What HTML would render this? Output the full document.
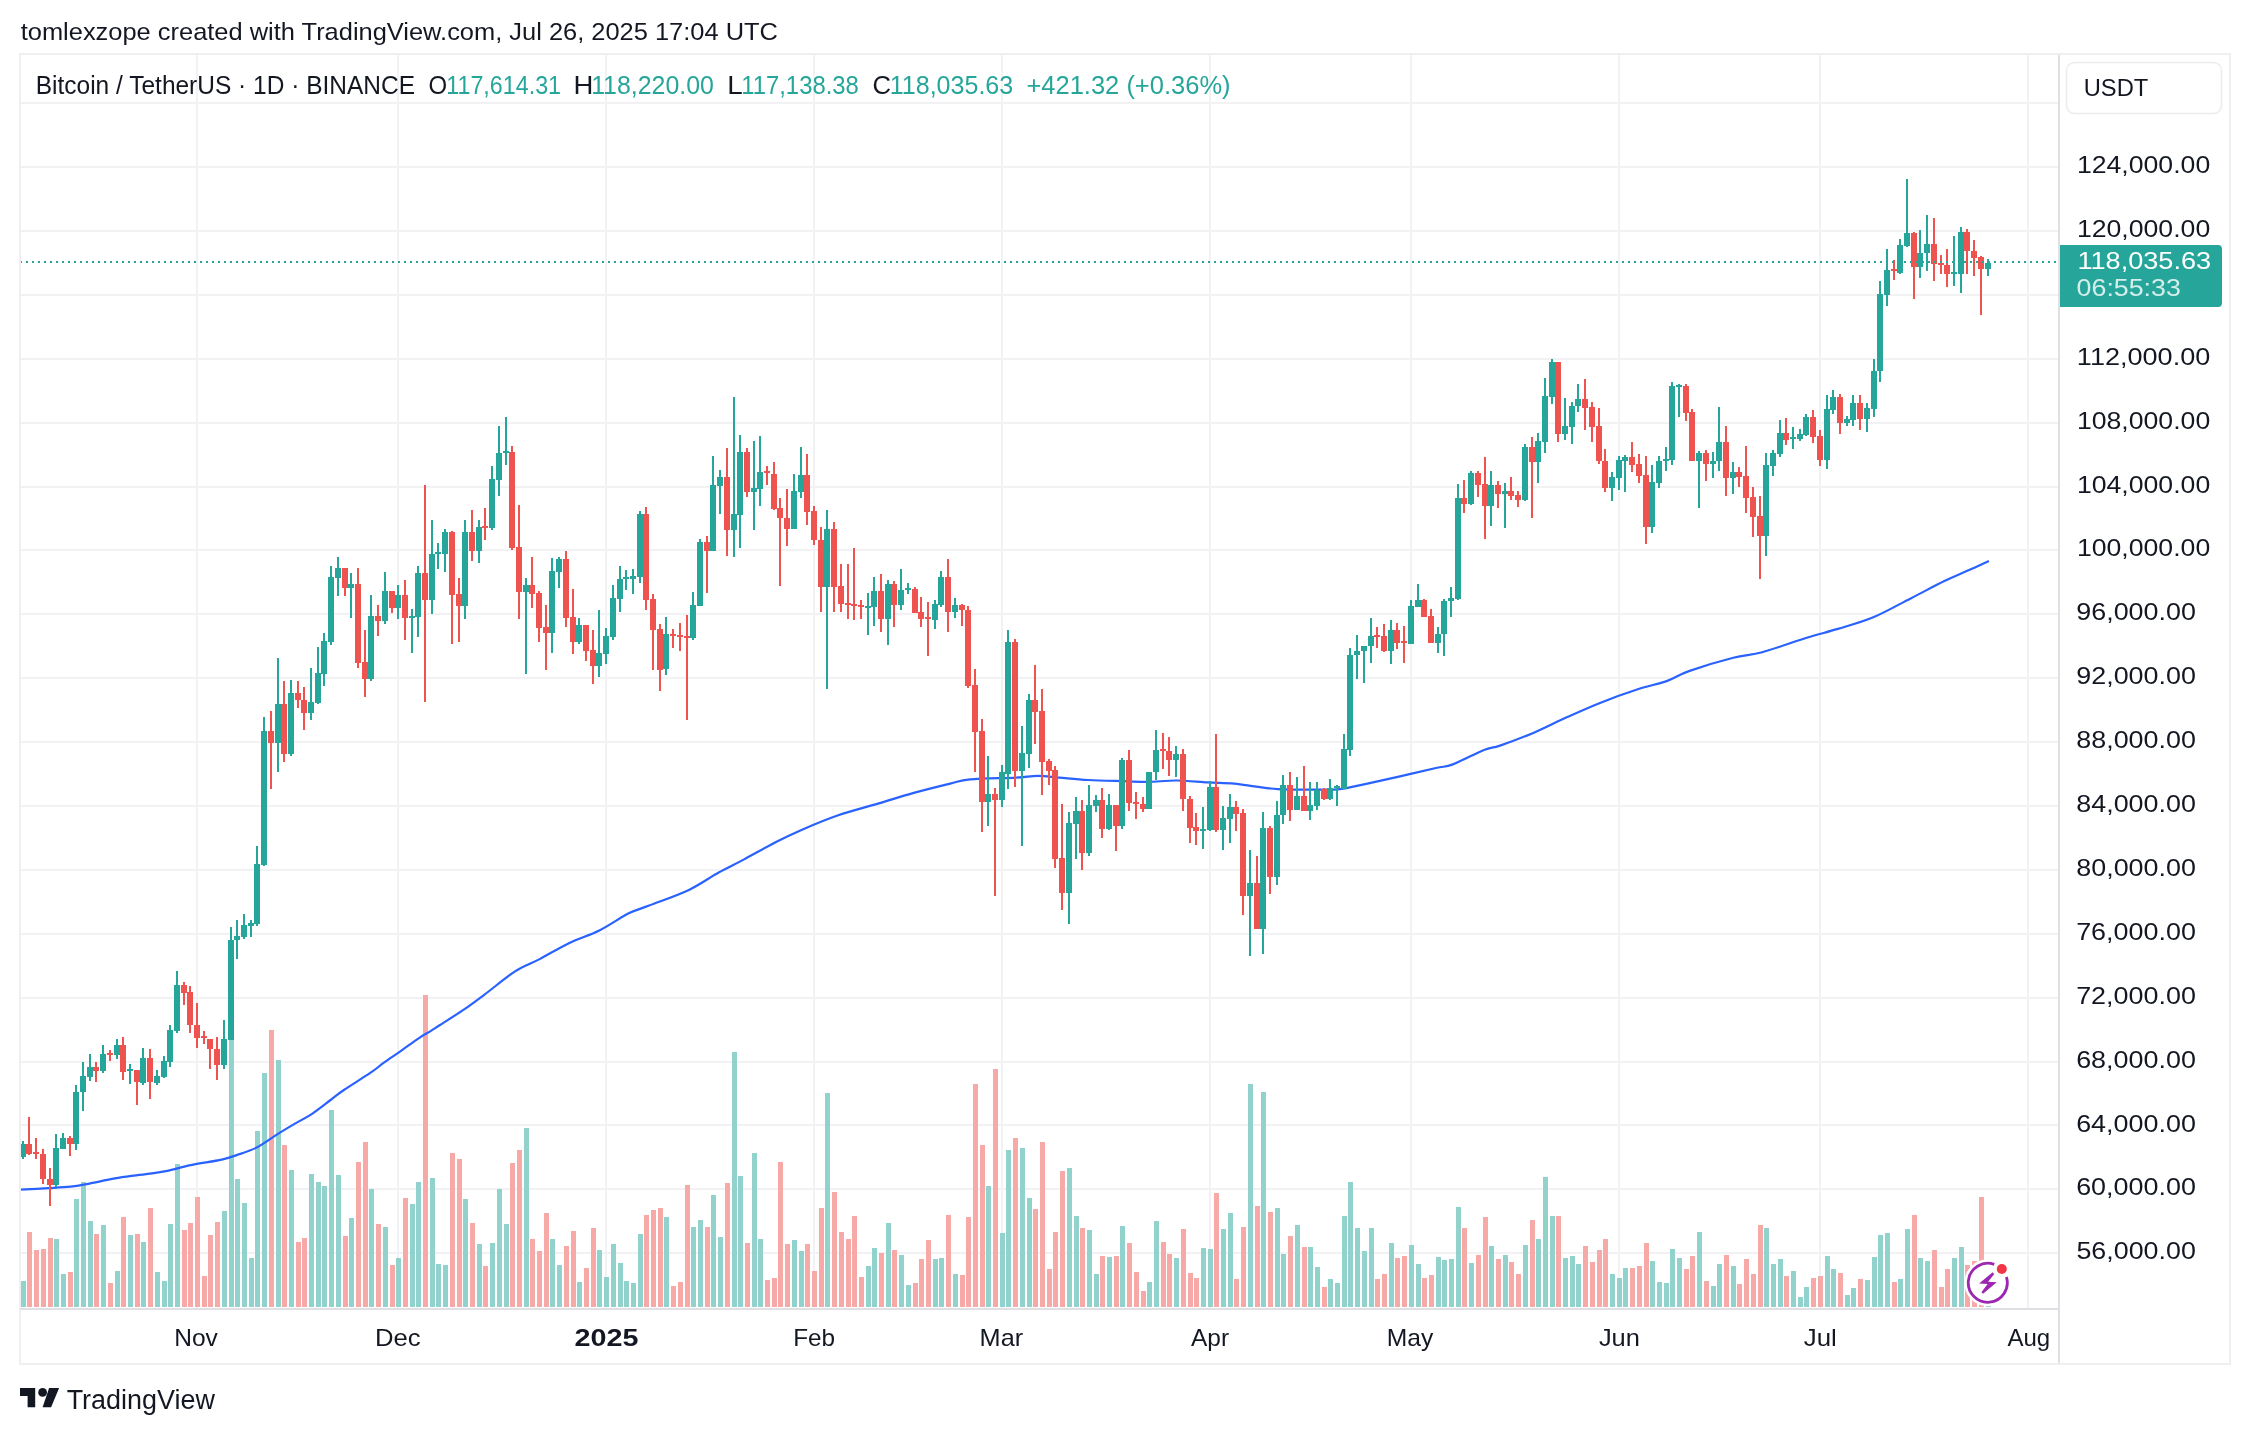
<!DOCTYPE html><html><head><meta charset="utf-8"><style>html,body{margin:0;padding:0;background:#fff;}body{width:2250px;height:1434px;position:relative;overflow:hidden;font-family:"Liberation Sans",sans-serif;}svg{will-change:transform;}</style></head><body><svg width="2250" height="1434" viewBox="0 0 2250 1434" style="position:absolute;left:0;top:0" font-family="Liberation Sans, sans-serif"><g shape-rendering="crispEdges"><rect x="20" y="102" width="2038" height="2" fill="#f2f2f4"/><rect x="20" y="166" width="2038" height="2" fill="#f2f2f4"/><rect x="20" y="230" width="2038" height="2" fill="#f2f2f4"/><rect x="20" y="294" width="2038" height="2" fill="#f2f2f4"/><rect x="20" y="358" width="2038" height="2" fill="#f2f2f4"/><rect x="20" y="422" width="2038" height="2" fill="#f2f2f4"/><rect x="20" y="486" width="2038" height="2" fill="#f2f2f4"/><rect x="20" y="549" width="2038" height="2" fill="#f2f2f4"/><rect x="20" y="613" width="2038" height="2" fill="#f2f2f4"/><rect x="20" y="677" width="2038" height="2" fill="#f2f2f4"/><rect x="20" y="741" width="2038" height="2" fill="#f2f2f4"/><rect x="20" y="805" width="2038" height="2" fill="#f2f2f4"/><rect x="20" y="869" width="2038" height="2" fill="#f2f2f4"/><rect x="20" y="933" width="2038" height="2" fill="#f2f2f4"/><rect x="20" y="997" width="2038" height="2" fill="#f2f2f4"/><rect x="20" y="1061" width="2038" height="2" fill="#f2f2f4"/><rect x="20" y="1124" width="2038" height="2" fill="#f2f2f4"/><rect x="20" y="1188" width="2038" height="2" fill="#f2f2f4"/><rect x="20" y="1252" width="2038" height="2" fill="#f2f2f4"/><rect x="196" y="55" width="2" height="1253" fill="#f2f2f4"/><rect x="397" y="55" width="2" height="1253" fill="#f2f2f4"/><rect x="605" y="55" width="2" height="1253" fill="#f2f2f4"/><rect x="813" y="55" width="2" height="1253" fill="#f2f2f4"/><rect x="1001" y="55" width="2" height="1253" fill="#f2f2f4"/><rect x="1209" y="55" width="2" height="1253" fill="#f2f2f4"/><rect x="1410" y="55" width="2" height="1253" fill="#f2f2f4"/><rect x="1618" y="55" width="2" height="1253" fill="#f2f2f4"/><rect x="1819" y="55" width="2" height="1253" fill="#f2f2f4"/><rect x="2027" y="55" width="2" height="1253" fill="#f2f2f4"/><rect x="21" y="1281" width="5" height="26" fill="#92d2cc"/><rect x="27" y="1232" width="5" height="75" fill="#f7a9a7"/><rect x="34" y="1250" width="5" height="57" fill="#f7a9a7"/><rect x="41" y="1249" width="5" height="58" fill="#f7a9a7"/><rect x="48" y="1238" width="5" height="69" fill="#f7a9a7"/><rect x="54" y="1239" width="5" height="68" fill="#92d2cc"/><rect x="61" y="1274" width="5" height="33" fill="#92d2cc"/><rect x="68" y="1272" width="5" height="35" fill="#f7a9a7"/><rect x="74" y="1199" width="5" height="108" fill="#92d2cc"/><rect x="81" y="1182" width="5" height="125" fill="#92d2cc"/><rect x="88" y="1221" width="5" height="86" fill="#92d2cc"/><rect x="94" y="1234" width="5" height="73" fill="#f7a9a7"/><rect x="101" y="1225" width="5" height="82" fill="#92d2cc"/><rect x="108" y="1283" width="5" height="24" fill="#f7a9a7"/><rect x="115" y="1271" width="5" height="36" fill="#92d2cc"/><rect x="121" y="1217" width="5" height="90" fill="#f7a9a7"/><rect x="128" y="1235" width="5" height="72" fill="#92d2cc"/><rect x="135" y="1234" width="5" height="73" fill="#f7a9a7"/><rect x="141" y="1242" width="5" height="65" fill="#92d2cc"/><rect x="148" y="1208" width="5" height="99" fill="#f7a9a7"/><rect x="155" y="1272" width="5" height="35" fill="#92d2cc"/><rect x="162" y="1281" width="5" height="26" fill="#92d2cc"/><rect x="168" y="1224" width="5" height="83" fill="#92d2cc"/><rect x="175" y="1164" width="5" height="143" fill="#92d2cc"/><rect x="182" y="1230" width="5" height="77" fill="#f7a9a7"/><rect x="188" y="1223" width="5" height="84" fill="#f7a9a7"/><rect x="195" y="1197" width="5" height="110" fill="#f7a9a7"/><rect x="202" y="1276" width="5" height="31" fill="#f7a9a7"/><rect x="208" y="1235" width="5" height="72" fill="#f7a9a7"/><rect x="215" y="1222" width="5" height="85" fill="#f7a9a7"/><rect x="222" y="1211" width="5" height="96" fill="#92d2cc"/><rect x="229" y="1040" width="5" height="267" fill="#92d2cc"/><rect x="235" y="1179" width="5" height="128" fill="#92d2cc"/><rect x="242" y="1203" width="5" height="104" fill="#92d2cc"/><rect x="249" y="1258" width="5" height="49" fill="#92d2cc"/><rect x="255" y="1131" width="5" height="176" fill="#92d2cc"/><rect x="262" y="1073" width="5" height="234" fill="#92d2cc"/><rect x="269" y="1030" width="5" height="277" fill="#f7a9a7"/><rect x="276" y="1060" width="5" height="247" fill="#92d2cc"/><rect x="282" y="1145" width="5" height="162" fill="#f7a9a7"/><rect x="289" y="1170" width="5" height="137" fill="#92d2cc"/><rect x="296" y="1242" width="5" height="65" fill="#f7a9a7"/><rect x="302" y="1238" width="5" height="69" fill="#f7a9a7"/><rect x="309" y="1174" width="5" height="133" fill="#92d2cc"/><rect x="316" y="1182" width="5" height="125" fill="#92d2cc"/><rect x="322" y="1186" width="5" height="121" fill="#92d2cc"/><rect x="329" y="1110" width="5" height="197" fill="#92d2cc"/><rect x="336" y="1175" width="5" height="132" fill="#92d2cc"/><rect x="343" y="1236" width="5" height="71" fill="#f7a9a7"/><rect x="349" y="1218" width="5" height="89" fill="#92d2cc"/><rect x="356" y="1162" width="5" height="145" fill="#f7a9a7"/><rect x="363" y="1142" width="5" height="165" fill="#f7a9a7"/><rect x="369" y="1189" width="5" height="118" fill="#92d2cc"/><rect x="376" y="1224" width="5" height="83" fill="#f7a9a7"/><rect x="383" y="1227" width="5" height="80" fill="#92d2cc"/><rect x="390" y="1265" width="5" height="42" fill="#f7a9a7"/><rect x="396" y="1258" width="5" height="49" fill="#92d2cc"/><rect x="403" y="1198" width="5" height="109" fill="#f7a9a7"/><rect x="410" y="1204" width="5" height="103" fill="#92d2cc"/><rect x="416" y="1182" width="5" height="125" fill="#92d2cc"/><rect x="423" y="995" width="5" height="312" fill="#f7a9a7"/><rect x="430" y="1178" width="5" height="129" fill="#92d2cc"/><rect x="436" y="1264" width="5" height="43" fill="#92d2cc"/><rect x="443" y="1265" width="5" height="42" fill="#92d2cc"/><rect x="450" y="1153" width="5" height="154" fill="#f7a9a7"/><rect x="457" y="1159" width="5" height="148" fill="#f7a9a7"/><rect x="463" y="1199" width="5" height="108" fill="#92d2cc"/><rect x="470" y="1223" width="5" height="84" fill="#f7a9a7"/><rect x="477" y="1244" width="5" height="63" fill="#92d2cc"/><rect x="483" y="1266" width="5" height="41" fill="#f7a9a7"/><rect x="490" y="1243" width="5" height="64" fill="#92d2cc"/><rect x="497" y="1189" width="5" height="118" fill="#92d2cc"/><rect x="504" y="1224" width="5" height="83" fill="#92d2cc"/><rect x="510" y="1163" width="5" height="144" fill="#f7a9a7"/><rect x="517" y="1150" width="5" height="157" fill="#f7a9a7"/><rect x="524" y="1128" width="5" height="179" fill="#92d2cc"/><rect x="530" y="1239" width="5" height="68" fill="#f7a9a7"/><rect x="537" y="1251" width="5" height="56" fill="#f7a9a7"/><rect x="544" y="1213" width="5" height="94" fill="#f7a9a7"/><rect x="550" y="1239" width="5" height="68" fill="#92d2cc"/><rect x="557" y="1265" width="5" height="42" fill="#92d2cc"/><rect x="564" y="1246" width="5" height="61" fill="#f7a9a7"/><rect x="571" y="1231" width="5" height="76" fill="#f7a9a7"/><rect x="577" y="1282" width="5" height="25" fill="#92d2cc"/><rect x="584" y="1268" width="5" height="39" fill="#f7a9a7"/><rect x="591" y="1228" width="5" height="79" fill="#f7a9a7"/><rect x="597" y="1250" width="5" height="57" fill="#92d2cc"/><rect x="604" y="1277" width="5" height="30" fill="#92d2cc"/><rect x="611" y="1244" width="5" height="63" fill="#92d2cc"/><rect x="618" y="1263" width="5" height="44" fill="#92d2cc"/><rect x="624" y="1281" width="5" height="26" fill="#92d2cc"/><rect x="631" y="1283" width="5" height="24" fill="#92d2cc"/><rect x="638" y="1234" width="5" height="73" fill="#92d2cc"/><rect x="644" y="1215" width="5" height="92" fill="#f7a9a7"/><rect x="651" y="1210" width="5" height="97" fill="#f7a9a7"/><rect x="658" y="1208" width="5" height="99" fill="#f7a9a7"/><rect x="664" y="1217" width="5" height="90" fill="#92d2cc"/><rect x="671" y="1286" width="5" height="21" fill="#f7a9a7"/><rect x="678" y="1282" width="5" height="25" fill="#f7a9a7"/><rect x="685" y="1185" width="5" height="122" fill="#f7a9a7"/><rect x="691" y="1227" width="5" height="80" fill="#92d2cc"/><rect x="698" y="1220" width="5" height="87" fill="#92d2cc"/><rect x="705" y="1227" width="5" height="80" fill="#f7a9a7"/><rect x="711" y="1195" width="5" height="112" fill="#92d2cc"/><rect x="718" y="1237" width="5" height="70" fill="#92d2cc"/><rect x="725" y="1183" width="5" height="124" fill="#f7a9a7"/><rect x="732" y="1052" width="5" height="255" fill="#92d2cc"/><rect x="738" y="1176" width="5" height="131" fill="#92d2cc"/><rect x="745" y="1243" width="5" height="64" fill="#f7a9a7"/><rect x="752" y="1153" width="5" height="154" fill="#92d2cc"/><rect x="758" y="1239" width="5" height="68" fill="#92d2cc"/><rect x="765" y="1280" width="5" height="27" fill="#f7a9a7"/><rect x="772" y="1278" width="5" height="29" fill="#f7a9a7"/><rect x="778" y="1162" width="5" height="145" fill="#f7a9a7"/><rect x="785" y="1244" width="5" height="63" fill="#f7a9a7"/><rect x="792" y="1240" width="5" height="67" fill="#92d2cc"/><rect x="799" y="1251" width="5" height="56" fill="#92d2cc"/><rect x="805" y="1244" width="5" height="63" fill="#f7a9a7"/><rect x="812" y="1271" width="5" height="36" fill="#f7a9a7"/><rect x="819" y="1208" width="5" height="99" fill="#f7a9a7"/><rect x="825" y="1093" width="5" height="214" fill="#92d2cc"/><rect x="832" y="1192" width="5" height="115" fill="#f7a9a7"/><rect x="839" y="1232" width="5" height="75" fill="#f7a9a7"/><rect x="846" y="1239" width="5" height="68" fill="#f7a9a7"/><rect x="852" y="1216" width="5" height="91" fill="#f7a9a7"/><rect x="859" y="1277" width="5" height="30" fill="#f7a9a7"/><rect x="866" y="1266" width="5" height="41" fill="#92d2cc"/><rect x="872" y="1248" width="5" height="59" fill="#92d2cc"/><rect x="879" y="1253" width="5" height="54" fill="#f7a9a7"/><rect x="886" y="1223" width="5" height="84" fill="#92d2cc"/><rect x="892" y="1250" width="5" height="57" fill="#f7a9a7"/><rect x="899" y="1255" width="5" height="52" fill="#92d2cc"/><rect x="906" y="1285" width="5" height="22" fill="#92d2cc"/><rect x="913" y="1283" width="5" height="24" fill="#f7a9a7"/><rect x="919" y="1259" width="5" height="48" fill="#f7a9a7"/><rect x="926" y="1240" width="5" height="67" fill="#f7a9a7"/><rect x="933" y="1259" width="5" height="48" fill="#92d2cc"/><rect x="939" y="1258" width="5" height="49" fill="#92d2cc"/><rect x="946" y="1215" width="5" height="92" fill="#f7a9a7"/><rect x="953" y="1274" width="5" height="33" fill="#92d2cc"/><rect x="960" y="1275" width="5" height="32" fill="#f7a9a7"/><rect x="966" y="1217" width="5" height="90" fill="#f7a9a7"/><rect x="973" y="1084" width="5" height="223" fill="#f7a9a7"/><rect x="980" y="1145" width="5" height="162" fill="#f7a9a7"/><rect x="986" y="1186" width="5" height="121" fill="#92d2cc"/><rect x="993" y="1069" width="5" height="238" fill="#f7a9a7"/><rect x="1000" y="1233" width="5" height="74" fill="#92d2cc"/><rect x="1006" y="1150" width="5" height="157" fill="#92d2cc"/><rect x="1013" y="1138" width="5" height="169" fill="#f7a9a7"/><rect x="1020" y="1148" width="5" height="159" fill="#92d2cc"/><rect x="1027" y="1198" width="5" height="109" fill="#92d2cc"/><rect x="1033" y="1209" width="5" height="98" fill="#f7a9a7"/><rect x="1040" y="1142" width="5" height="165" fill="#f7a9a7"/><rect x="1047" y="1269" width="5" height="38" fill="#f7a9a7"/><rect x="1053" y="1232" width="5" height="75" fill="#f7a9a7"/><rect x="1060" y="1171" width="5" height="136" fill="#f7a9a7"/><rect x="1067" y="1168" width="5" height="139" fill="#92d2cc"/><rect x="1074" y="1216" width="5" height="91" fill="#92d2cc"/><rect x="1080" y="1228" width="5" height="79" fill="#f7a9a7"/><rect x="1087" y="1230" width="5" height="77" fill="#92d2cc"/><rect x="1094" y="1274" width="5" height="33" fill="#92d2cc"/><rect x="1100" y="1256" width="5" height="51" fill="#f7a9a7"/><rect x="1107" y="1257" width="5" height="50" fill="#92d2cc"/><rect x="1114" y="1256" width="5" height="51" fill="#f7a9a7"/><rect x="1120" y="1226" width="5" height="81" fill="#92d2cc"/><rect x="1127" y="1243" width="5" height="64" fill="#f7a9a7"/><rect x="1134" y="1272" width="5" height="35" fill="#f7a9a7"/><rect x="1141" y="1291" width="5" height="16" fill="#f7a9a7"/><rect x="1147" y="1282" width="5" height="25" fill="#92d2cc"/><rect x="1154" y="1221" width="5" height="86" fill="#92d2cc"/><rect x="1161" y="1242" width="5" height="65" fill="#f7a9a7"/><rect x="1167" y="1254" width="5" height="53" fill="#f7a9a7"/><rect x="1174" y="1258" width="5" height="49" fill="#92d2cc"/><rect x="1181" y="1229" width="5" height="78" fill="#f7a9a7"/><rect x="1188" y="1273" width="5" height="34" fill="#f7a9a7"/><rect x="1194" y="1278" width="5" height="29" fill="#f7a9a7"/><rect x="1201" y="1248" width="5" height="59" fill="#92d2cc"/><rect x="1208" y="1249" width="5" height="58" fill="#92d2cc"/><rect x="1214" y="1193" width="5" height="114" fill="#f7a9a7"/><rect x="1221" y="1229" width="5" height="78" fill="#92d2cc"/><rect x="1228" y="1213" width="5" height="94" fill="#92d2cc"/><rect x="1234" y="1279" width="5" height="28" fill="#f7a9a7"/><rect x="1241" y="1227" width="5" height="80" fill="#f7a9a7"/><rect x="1248" y="1084" width="5" height="223" fill="#92d2cc"/><rect x="1255" y="1206" width="5" height="101" fill="#f7a9a7"/><rect x="1261" y="1092" width="5" height="215" fill="#92d2cc"/><rect x="1268" y="1212" width="5" height="95" fill="#f7a9a7"/><rect x="1275" y="1208" width="5" height="99" fill="#92d2cc"/><rect x="1281" y="1254" width="5" height="53" fill="#92d2cc"/><rect x="1288" y="1236" width="5" height="71" fill="#f7a9a7"/><rect x="1295" y="1225" width="5" height="82" fill="#92d2cc"/><rect x="1302" y="1247" width="5" height="60" fill="#f7a9a7"/><rect x="1308" y="1247" width="5" height="60" fill="#92d2cc"/><rect x="1315" y="1267" width="5" height="40" fill="#92d2cc"/><rect x="1322" y="1287" width="5" height="20" fill="#f7a9a7"/><rect x="1328" y="1279" width="5" height="28" fill="#92d2cc"/><rect x="1335" y="1283" width="5" height="24" fill="#92d2cc"/><rect x="1342" y="1216" width="5" height="91" fill="#92d2cc"/><rect x="1348" y="1182" width="5" height="125" fill="#92d2cc"/><rect x="1355" y="1228" width="5" height="79" fill="#92d2cc"/><rect x="1362" y="1251" width="5" height="56" fill="#92d2cc"/><rect x="1369" y="1228" width="5" height="79" fill="#92d2cc"/><rect x="1375" y="1279" width="5" height="28" fill="#f7a9a7"/><rect x="1382" y="1274" width="5" height="33" fill="#f7a9a7"/><rect x="1389" y="1243" width="5" height="64" fill="#92d2cc"/><rect x="1395" y="1258" width="5" height="49" fill="#f7a9a7"/><rect x="1402" y="1256" width="5" height="51" fill="#f7a9a7"/><rect x="1409" y="1245" width="5" height="62" fill="#92d2cc"/><rect x="1416" y="1264" width="5" height="43" fill="#92d2cc"/><rect x="1422" y="1278" width="5" height="29" fill="#f7a9a7"/><rect x="1429" y="1275" width="5" height="32" fill="#f7a9a7"/><rect x="1436" y="1257" width="5" height="50" fill="#92d2cc"/><rect x="1442" y="1260" width="5" height="47" fill="#92d2cc"/><rect x="1449" y="1259" width="5" height="48" fill="#92d2cc"/><rect x="1456" y="1207" width="5" height="100" fill="#92d2cc"/><rect x="1462" y="1228" width="5" height="79" fill="#f7a9a7"/><rect x="1469" y="1263" width="5" height="44" fill="#92d2cc"/><rect x="1476" y="1255" width="5" height="52" fill="#f7a9a7"/><rect x="1483" y="1217" width="5" height="90" fill="#f7a9a7"/><rect x="1489" y="1246" width="5" height="61" fill="#92d2cc"/><rect x="1496" y="1259" width="5" height="48" fill="#f7a9a7"/><rect x="1503" y="1255" width="5" height="52" fill="#92d2cc"/><rect x="1509" y="1262" width="5" height="45" fill="#f7a9a7"/><rect x="1516" y="1274" width="5" height="33" fill="#f7a9a7"/><rect x="1523" y="1245" width="5" height="62" fill="#92d2cc"/><rect x="1530" y="1220" width="5" height="87" fill="#f7a9a7"/><rect x="1536" y="1239" width="5" height="68" fill="#92d2cc"/><rect x="1543" y="1177" width="5" height="130" fill="#92d2cc"/><rect x="1550" y="1216" width="5" height="91" fill="#92d2cc"/><rect x="1556" y="1216" width="5" height="91" fill="#f7a9a7"/><rect x="1563" y="1258" width="5" height="49" fill="#92d2cc"/><rect x="1570" y="1256" width="5" height="51" fill="#92d2cc"/><rect x="1576" y="1264" width="5" height="43" fill="#92d2cc"/><rect x="1583" y="1246" width="5" height="61" fill="#f7a9a7"/><rect x="1590" y="1262" width="5" height="45" fill="#f7a9a7"/><rect x="1597" y="1250" width="5" height="57" fill="#f7a9a7"/><rect x="1603" y="1239" width="5" height="68" fill="#f7a9a7"/><rect x="1610" y="1274" width="5" height="33" fill="#92d2cc"/><rect x="1617" y="1278" width="5" height="29" fill="#92d2cc"/><rect x="1623" y="1268" width="5" height="39" fill="#92d2cc"/><rect x="1630" y="1268" width="5" height="39" fill="#f7a9a7"/><rect x="1637" y="1266" width="5" height="41" fill="#f7a9a7"/><rect x="1644" y="1243" width="5" height="64" fill="#f7a9a7"/><rect x="1650" y="1261" width="5" height="46" fill="#92d2cc"/><rect x="1657" y="1282" width="5" height="25" fill="#92d2cc"/><rect x="1664" y="1283" width="5" height="24" fill="#92d2cc"/><rect x="1670" y="1249" width="5" height="58" fill="#92d2cc"/><rect x="1677" y="1258" width="5" height="49" fill="#92d2cc"/><rect x="1684" y="1269" width="5" height="38" fill="#f7a9a7"/><rect x="1690" y="1256" width="5" height="51" fill="#f7a9a7"/><rect x="1697" y="1232" width="5" height="75" fill="#92d2cc"/><rect x="1704" y="1281" width="5" height="26" fill="#f7a9a7"/><rect x="1711" y="1286" width="5" height="21" fill="#92d2cc"/><rect x="1717" y="1264" width="5" height="43" fill="#92d2cc"/><rect x="1724" y="1255" width="5" height="52" fill="#f7a9a7"/><rect x="1731" y="1266" width="5" height="41" fill="#92d2cc"/><rect x="1737" y="1284" width="5" height="23" fill="#f7a9a7"/><rect x="1744" y="1259" width="5" height="48" fill="#f7a9a7"/><rect x="1751" y="1274" width="5" height="33" fill="#f7a9a7"/><rect x="1758" y="1225" width="5" height="82" fill="#f7a9a7"/><rect x="1764" y="1228" width="5" height="79" fill="#92d2cc"/><rect x="1771" y="1264" width="5" height="43" fill="#92d2cc"/><rect x="1778" y="1259" width="5" height="48" fill="#92d2cc"/><rect x="1784" y="1276" width="5" height="31" fill="#f7a9a7"/><rect x="1791" y="1271" width="5" height="36" fill="#92d2cc"/><rect x="1798" y="1297" width="5" height="10" fill="#92d2cc"/><rect x="1804" y="1287" width="5" height="20" fill="#92d2cc"/><rect x="1811" y="1278" width="5" height="29" fill="#f7a9a7"/><rect x="1818" y="1276" width="5" height="31" fill="#f7a9a7"/><rect x="1825" y="1256" width="5" height="51" fill="#92d2cc"/><rect x="1831" y="1269" width="5" height="38" fill="#92d2cc"/><rect x="1838" y="1273" width="5" height="34" fill="#f7a9a7"/><rect x="1845" y="1295" width="5" height="12" fill="#92d2cc"/><rect x="1851" y="1288" width="5" height="19" fill="#92d2cc"/><rect x="1858" y="1279" width="5" height="28" fill="#f7a9a7"/><rect x="1865" y="1280" width="5" height="27" fill="#92d2cc"/><rect x="1872" y="1257" width="5" height="50" fill="#92d2cc"/><rect x="1878" y="1235" width="5" height="72" fill="#92d2cc"/><rect x="1885" y="1233" width="5" height="74" fill="#92d2cc"/><rect x="1892" y="1282" width="5" height="25" fill="#f7a9a7"/><rect x="1898" y="1279" width="5" height="28" fill="#92d2cc"/><rect x="1905" y="1229" width="5" height="78" fill="#92d2cc"/><rect x="1912" y="1215" width="5" height="92" fill="#f7a9a7"/><rect x="1918" y="1258" width="5" height="49" fill="#92d2cc"/><rect x="1925" y="1261" width="5" height="46" fill="#92d2cc"/><rect x="1932" y="1250" width="5" height="57" fill="#f7a9a7"/><rect x="1939" y="1287" width="5" height="20" fill="#f7a9a7"/><rect x="1945" y="1269" width="5" height="38" fill="#f7a9a7"/><rect x="1952" y="1258" width="5" height="49" fill="#92d2cc"/><rect x="1959" y="1247" width="5" height="60" fill="#92d2cc"/><rect x="1965" y="1265" width="5" height="42" fill="#f7a9a7"/><rect x="1972" y="1261" width="5" height="46" fill="#f7a9a7"/><rect x="1979" y="1197" width="5" height="110" fill="#f7a9a7"/><rect x="1986" y="1305" width="5" height="2" fill="#92d2cc"/></g><path fill="none" stroke="#2962ff" stroke-width="2.2" stroke-linejoin="round" d="M19.9 1189.6 C24.6 1189.4 39.8 1188.7 48.3 1188.2 C56.8 1187.7 63.9 1187.4 70.6 1186.7 C77.3 1186.0 80.9 1185.2 88.3 1183.8 C95.7 1182.4 106.5 1179.9 115.0 1178.4 C123.5 1176.9 130.9 1176.1 139.4 1174.9 C147.9 1173.7 157.6 1172.7 166.1 1171.1 C174.6 1169.5 181.3 1167.0 190.6 1165.1 C199.9 1163.2 213.9 1161.3 221.7 1159.6 C229.5 1157.9 231.3 1157.0 237.2 1154.9 C243.1 1152.9 250.5 1150.7 257.2 1147.3 C263.9 1143.9 271.3 1138.1 277.2 1134.4 C283.1 1130.7 286.9 1128.4 292.8 1124.9 C298.7 1121.4 306.5 1117.5 312.8 1113.3 C319.1 1109.1 325.4 1103.9 330.6 1100.0 C335.8 1096.1 337.2 1094.5 343.9 1090.0 C350.6 1085.5 363.9 1077.2 370.6 1072.7 C377.3 1068.2 378.7 1066.4 383.9 1062.7 C389.1 1059.0 395.8 1054.6 401.7 1050.4 C407.6 1046.2 414.6 1041.0 419.4 1037.8 C424.2 1034.6 427.2 1033.2 430.6 1031.1 C434.0 1029.0 434.3 1028.7 440.0 1025.0 C445.7 1021.3 457.4 1014.0 464.9 1008.9 C472.4 1003.8 476.5 1000.6 484.8 994.4 C493.1 988.2 505.6 977.5 514.7 971.6 C523.8 965.7 530.5 963.9 539.6 959.1 C548.7 954.3 559.5 947.7 569.4 942.9 C579.3 938.1 589.3 935.5 599.3 930.5 C609.3 925.5 620.9 917.2 629.2 913.1 C637.5 909.0 639.2 909.5 649.1 905.6 C659.0 901.7 677.3 895.4 688.9 889.9 C700.5 884.4 709.6 877.5 718.7 872.5 C727.8 867.5 734.1 864.7 743.6 859.6 C753.1 854.5 766.5 847.0 776.0 842.1 C785.5 837.2 790.5 834.7 800.9 830.2 C811.3 825.7 825.4 819.7 838.2 815.3 C851.1 810.9 865.5 807.3 878.0 803.6 C890.5 799.9 900.9 796.4 912.9 793.1 C924.9 789.8 940.7 785.9 950.2 783.6 C959.7 781.3 959.1 780.4 970.1 779.4 C981.1 778.4 1004.8 778.2 1016.0 777.6 C1027.2 777.0 1030.4 775.9 1037.6 775.9 C1044.8 775.9 1050.8 776.9 1059.2 777.6 C1067.6 778.3 1077.2 779.4 1088.0 780.0 C1098.8 780.6 1114.0 780.9 1124.0 781.2 C1134.0 781.5 1139.2 782.0 1148.0 781.9 C1156.8 781.8 1166.8 780.4 1176.8 780.5 C1186.8 780.6 1198.4 781.9 1208.0 782.4 C1217.6 782.9 1226.4 782.9 1234.4 783.6 C1242.4 784.3 1248.8 785.8 1256.0 786.7 C1263.2 787.6 1267.6 788.6 1277.6 789.1 C1287.6 789.6 1305.6 789.6 1316.0 789.6 C1326.4 789.6 1332.0 790.0 1340.0 789.1 C1348.0 788.2 1354.0 786.4 1364.0 784.3 C1374.0 782.2 1388.0 779.1 1400.0 776.4 C1412.0 773.7 1427.2 770.0 1436.0 768.0 C1444.8 766.0 1444.8 767.4 1452.8 764.4 C1460.8 761.4 1476.1 753.1 1484.0 750.0 C1491.9 746.9 1491.8 748.5 1500.0 745.6 C1508.2 742.8 1522.2 737.6 1533.3 732.9 C1544.4 728.2 1555.6 722.3 1566.7 717.3 C1577.8 712.3 1588.2 707.6 1600.0 702.9 C1611.8 698.2 1626.7 692.9 1637.8 689.3 C1648.9 685.7 1658.2 684.1 1666.7 681.1 C1675.2 678.1 1677.8 675.0 1688.9 671.1 C1700.0 667.2 1721.1 660.9 1733.3 657.8 C1745.5 654.6 1750.0 655.5 1762.2 652.2 C1774.4 648.9 1794.1 641.7 1806.7 637.8 C1819.3 633.9 1826.7 632.3 1837.8 628.9 C1848.9 625.5 1861.1 622.4 1873.3 617.3 C1885.5 612.2 1899.2 604.2 1911.1 598.2 C1922.9 592.2 1935.1 585.6 1944.4 581.1 C1953.7 576.6 1959.3 574.4 1966.7 571.1 C1974.1 567.8 1985.2 562.8 1988.9 561.1"/><g shape-rendering="crispEdges"><rect x="22" y="1141" width="2" height="18" fill="#26a69a"/><rect x="20" y="1144" width="6" height="13" fill="#26a69a"/><rect x="28" y="1117" width="2" height="38" fill="#ef5350"/><rect x="26" y="1144" width="6" height="10" fill="#ef5350"/><rect x="35" y="1138" width="2" height="21" fill="#ef5350"/><rect x="33" y="1152" width="6" height="2" fill="#ef5350"/><rect x="42" y="1149" width="2" height="35" fill="#ef5350"/><rect x="40" y="1154" width="6" height="25" fill="#ef5350"/><rect x="49" y="1168" width="2" height="38" fill="#ef5350"/><rect x="47" y="1179" width="6" height="6" fill="#ef5350"/><rect x="55" y="1134" width="2" height="53" fill="#26a69a"/><rect x="53" y="1148" width="6" height="37" fill="#26a69a"/><rect x="62" y="1133" width="2" height="16" fill="#26a69a"/><rect x="60" y="1138" width="6" height="11" fill="#26a69a"/><rect x="69" y="1136" width="2" height="20" fill="#ef5350"/><rect x="67" y="1138" width="6" height="6" fill="#ef5350"/><rect x="75" y="1085" width="2" height="65" fill="#26a69a"/><rect x="73" y="1092" width="6" height="52" fill="#26a69a"/><rect x="82" y="1062" width="2" height="49" fill="#26a69a"/><rect x="80" y="1076" width="6" height="16" fill="#26a69a"/><rect x="89" y="1054" width="2" height="27" fill="#26a69a"/><rect x="87" y="1067" width="6" height="10" fill="#26a69a"/><rect x="95" y="1062" width="2" height="20" fill="#ef5350"/><rect x="93" y="1067" width="6" height="4" fill="#ef5350"/><rect x="102" y="1045" width="2" height="28" fill="#26a69a"/><rect x="100" y="1054" width="6" height="17" fill="#26a69a"/><rect x="109" y="1050" width="2" height="11" fill="#ef5350"/><rect x="107" y="1053" width="6" height="2" fill="#ef5350"/><rect x="116" y="1039" width="2" height="20" fill="#26a69a"/><rect x="114" y="1045" width="6" height="10" fill="#26a69a"/><rect x="122" y="1037" width="2" height="43" fill="#ef5350"/><rect x="120" y="1045" width="6" height="27" fill="#ef5350"/><rect x="129" y="1064" width="2" height="20" fill="#26a69a"/><rect x="127" y="1069" width="6" height="2" fill="#26a69a"/><rect x="136" y="1070" width="2" height="35" fill="#ef5350"/><rect x="134" y="1070" width="6" height="12" fill="#ef5350"/><rect x="142" y="1048" width="2" height="37" fill="#26a69a"/><rect x="140" y="1058" width="6" height="25" fill="#26a69a"/><rect x="149" y="1049" width="2" height="50" fill="#ef5350"/><rect x="147" y="1058" width="6" height="24" fill="#ef5350"/><rect x="156" y="1070" width="2" height="15" fill="#26a69a"/><rect x="154" y="1076" width="6" height="7" fill="#26a69a"/><rect x="163" y="1056" width="2" height="22" fill="#26a69a"/><rect x="161" y="1061" width="6" height="16" fill="#26a69a"/><rect x="169" y="1025" width="2" height="42" fill="#26a69a"/><rect x="167" y="1030" width="6" height="32" fill="#26a69a"/><rect x="176" y="971" width="2" height="62" fill="#26a69a"/><rect x="174" y="985" width="6" height="46" fill="#26a69a"/><rect x="183" y="982" width="2" height="23" fill="#ef5350"/><rect x="181" y="985" width="6" height="8" fill="#ef5350"/><rect x="189" y="986" width="2" height="47" fill="#ef5350"/><rect x="187" y="992" width="6" height="33" fill="#ef5350"/><rect x="196" y="1003" width="2" height="45" fill="#ef5350"/><rect x="194" y="1025" width="6" height="13" fill="#ef5350"/><rect x="203" y="1031" width="2" height="13" fill="#ef5350"/><rect x="201" y="1036" width="6" height="2" fill="#ef5350"/><rect x="209" y="1039" width="2" height="30" fill="#ef5350"/><rect x="207" y="1039" width="6" height="10" fill="#ef5350"/><rect x="216" y="1037" width="2" height="43" fill="#ef5350"/><rect x="214" y="1049" width="6" height="16" fill="#ef5350"/><rect x="223" y="1020" width="2" height="49" fill="#26a69a"/><rect x="221" y="1039" width="6" height="26" fill="#26a69a"/><rect x="230" y="927" width="2" height="113" fill="#26a69a"/><rect x="228" y="940" width="6" height="100" fill="#26a69a"/><rect x="236" y="920" width="2" height="39" fill="#26a69a"/><rect x="234" y="936" width="6" height="4" fill="#26a69a"/><rect x="243" y="914" width="2" height="25" fill="#26a69a"/><rect x="241" y="925" width="6" height="12" fill="#26a69a"/><rect x="250" y="920" width="2" height="17" fill="#26a69a"/><rect x="248" y="923" width="6" height="3" fill="#26a69a"/><rect x="256" y="846" width="2" height="80" fill="#26a69a"/><rect x="254" y="864" width="6" height="60" fill="#26a69a"/><rect x="263" y="717" width="2" height="149" fill="#26a69a"/><rect x="261" y="731" width="6" height="134" fill="#26a69a"/><rect x="270" y="711" width="2" height="78" fill="#ef5350"/><rect x="268" y="731" width="6" height="12" fill="#ef5350"/><rect x="277" y="658" width="2" height="114" fill="#26a69a"/><rect x="275" y="704" width="6" height="39" fill="#26a69a"/><rect x="283" y="681" width="2" height="81" fill="#ef5350"/><rect x="281" y="704" width="6" height="50" fill="#ef5350"/><rect x="290" y="680" width="2" height="76" fill="#26a69a"/><rect x="288" y="693" width="6" height="61" fill="#26a69a"/><rect x="297" y="681" width="2" height="27" fill="#ef5350"/><rect x="295" y="693" width="6" height="7" fill="#ef5350"/><rect x="303" y="687" width="2" height="43" fill="#ef5350"/><rect x="301" y="700" width="6" height="13" fill="#ef5350"/><rect x="310" y="668" width="2" height="52" fill="#26a69a"/><rect x="308" y="702" width="6" height="11" fill="#26a69a"/><rect x="317" y="647" width="2" height="57" fill="#26a69a"/><rect x="315" y="673" width="6" height="30" fill="#26a69a"/><rect x="323" y="633" width="2" height="53" fill="#26a69a"/><rect x="321" y="641" width="6" height="33" fill="#26a69a"/><rect x="330" y="566" width="2" height="79" fill="#26a69a"/><rect x="328" y="577" width="6" height="65" fill="#26a69a"/><rect x="337" y="557" width="2" height="39" fill="#26a69a"/><rect x="335" y="568" width="6" height="10" fill="#26a69a"/><rect x="344" y="568" width="2" height="28" fill="#ef5350"/><rect x="342" y="568" width="6" height="20" fill="#ef5350"/><rect x="350" y="573" width="2" height="45" fill="#26a69a"/><rect x="348" y="584" width="6" height="4" fill="#26a69a"/><rect x="357" y="568" width="2" height="100" fill="#ef5350"/><rect x="355" y="584" width="6" height="79" fill="#ef5350"/><rect x="364" y="630" width="2" height="67" fill="#ef5350"/><rect x="362" y="662" width="6" height="17" fill="#ef5350"/><rect x="370" y="595" width="2" height="86" fill="#26a69a"/><rect x="368" y="616" width="6" height="63" fill="#26a69a"/><rect x="377" y="605" width="2" height="31" fill="#ef5350"/><rect x="375" y="616" width="6" height="5" fill="#ef5350"/><rect x="384" y="572" width="2" height="52" fill="#26a69a"/><rect x="382" y="591" width="6" height="30" fill="#26a69a"/><rect x="391" y="591" width="2" height="22" fill="#ef5350"/><rect x="389" y="591" width="6" height="17" fill="#ef5350"/><rect x="397" y="585" width="2" height="34" fill="#26a69a"/><rect x="395" y="595" width="6" height="13" fill="#26a69a"/><rect x="404" y="580" width="2" height="60" fill="#ef5350"/><rect x="402" y="595" width="6" height="23" fill="#ef5350"/><rect x="411" y="609" width="2" height="44" fill="#26a69a"/><rect x="409" y="616" width="6" height="2" fill="#26a69a"/><rect x="417" y="566" width="2" height="71" fill="#26a69a"/><rect x="415" y="573" width="6" height="44" fill="#26a69a"/><rect x="424" y="485" width="2" height="217" fill="#ef5350"/><rect x="422" y="573" width="6" height="27" fill="#ef5350"/><rect x="431" y="520" width="2" height="94" fill="#26a69a"/><rect x="429" y="554" width="6" height="46" fill="#26a69a"/><rect x="437" y="543" width="2" height="26" fill="#26a69a"/><rect x="435" y="552" width="6" height="2" fill="#26a69a"/><rect x="444" y="529" width="2" height="43" fill="#26a69a"/><rect x="442" y="532" width="6" height="22" fill="#26a69a"/><rect x="451" y="531" width="2" height="113" fill="#ef5350"/><rect x="449" y="532" width="6" height="63" fill="#ef5350"/><rect x="458" y="578" width="2" height="64" fill="#ef5350"/><rect x="456" y="594" width="6" height="12" fill="#ef5350"/><rect x="464" y="520" width="2" height="99" fill="#26a69a"/><rect x="462" y="532" width="6" height="74" fill="#26a69a"/><rect x="471" y="510" width="2" height="51" fill="#ef5350"/><rect x="469" y="532" width="6" height="19" fill="#ef5350"/><rect x="478" y="520" width="2" height="43" fill="#26a69a"/><rect x="476" y="527" width="6" height="24" fill="#26a69a"/><rect x="484" y="508" width="2" height="32" fill="#ef5350"/><rect x="482" y="526" width="6" height="2" fill="#ef5350"/><rect x="491" y="466" width="2" height="64" fill="#26a69a"/><rect x="489" y="479" width="6" height="49" fill="#26a69a"/><rect x="498" y="426" width="2" height="70" fill="#26a69a"/><rect x="496" y="453" width="6" height="27" fill="#26a69a"/><rect x="505" y="417" width="2" height="48" fill="#26a69a"/><rect x="503" y="451" width="6" height="2" fill="#26a69a"/><rect x="511" y="446" width="2" height="104" fill="#ef5350"/><rect x="509" y="452" width="6" height="96" fill="#ef5350"/><rect x="518" y="505" width="2" height="114" fill="#ef5350"/><rect x="516" y="547" width="6" height="45" fill="#ef5350"/><rect x="525" y="578" width="2" height="96" fill="#26a69a"/><rect x="523" y="585" width="6" height="7" fill="#26a69a"/><rect x="531" y="557" width="2" height="51" fill="#ef5350"/><rect x="529" y="585" width="6" height="9" fill="#ef5350"/><rect x="538" y="591" width="2" height="51" fill="#ef5350"/><rect x="536" y="593" width="6" height="35" fill="#ef5350"/><rect x="545" y="605" width="2" height="65" fill="#ef5350"/><rect x="543" y="627" width="6" height="6" fill="#ef5350"/><rect x="551" y="558" width="2" height="95" fill="#26a69a"/><rect x="549" y="571" width="6" height="62" fill="#26a69a"/><rect x="558" y="557" width="2" height="31" fill="#26a69a"/><rect x="556" y="559" width="6" height="13" fill="#26a69a"/><rect x="565" y="551" width="2" height="76" fill="#ef5350"/><rect x="563" y="559" width="6" height="59" fill="#ef5350"/><rect x="572" y="589" width="2" height="65" fill="#ef5350"/><rect x="570" y="617" width="6" height="25" fill="#ef5350"/><rect x="578" y="618" width="2" height="26" fill="#26a69a"/><rect x="576" y="625" width="6" height="17" fill="#26a69a"/><rect x="585" y="625" width="2" height="36" fill="#ef5350"/><rect x="583" y="625" width="6" height="26" fill="#ef5350"/><rect x="592" y="630" width="2" height="54" fill="#ef5350"/><rect x="590" y="650" width="6" height="16" fill="#ef5350"/><rect x="598" y="610" width="2" height="67" fill="#26a69a"/><rect x="596" y="653" width="6" height="13" fill="#26a69a"/><rect x="605" y="628" width="2" height="36" fill="#26a69a"/><rect x="603" y="636" width="6" height="18" fill="#26a69a"/><rect x="612" y="585" width="2" height="55" fill="#26a69a"/><rect x="610" y="598" width="6" height="39" fill="#26a69a"/><rect x="619" y="566" width="2" height="46" fill="#26a69a"/><rect x="617" y="579" width="6" height="20" fill="#26a69a"/><rect x="625" y="570" width="2" height="20" fill="#26a69a"/><rect x="623" y="577" width="6" height="2" fill="#26a69a"/><rect x="632" y="569" width="2" height="25" fill="#26a69a"/><rect x="630" y="576" width="6" height="3" fill="#26a69a"/><rect x="639" y="511" width="2" height="72" fill="#26a69a"/><rect x="637" y="514" width="6" height="63" fill="#26a69a"/><rect x="645" y="507" width="2" height="103" fill="#ef5350"/><rect x="643" y="514" width="6" height="86" fill="#ef5350"/><rect x="652" y="594" width="2" height="76" fill="#ef5350"/><rect x="650" y="599" width="6" height="31" fill="#ef5350"/><rect x="659" y="624" width="2" height="67" fill="#ef5350"/><rect x="657" y="629" width="6" height="41" fill="#ef5350"/><rect x="665" y="617" width="2" height="58" fill="#26a69a"/><rect x="663" y="634" width="6" height="35" fill="#26a69a"/><rect x="672" y="629" width="2" height="19" fill="#ef5350"/><rect x="670" y="634" width="6" height="2" fill="#ef5350"/><rect x="679" y="623" width="2" height="28" fill="#ef5350"/><rect x="677" y="635" width="6" height="2" fill="#ef5350"/><rect x="686" y="615" width="2" height="105" fill="#ef5350"/><rect x="684" y="636" width="6" height="2" fill="#ef5350"/><rect x="692" y="592" width="2" height="48" fill="#26a69a"/><rect x="690" y="605" width="6" height="33" fill="#26a69a"/><rect x="699" y="539" width="2" height="67" fill="#26a69a"/><rect x="697" y="542" width="6" height="64" fill="#26a69a"/><rect x="706" y="536" width="2" height="57" fill="#ef5350"/><rect x="704" y="542" width="6" height="9" fill="#ef5350"/><rect x="712" y="456" width="2" height="95" fill="#26a69a"/><rect x="710" y="485" width="6" height="66" fill="#26a69a"/><rect x="719" y="470" width="2" height="44" fill="#26a69a"/><rect x="717" y="477" width="6" height="9" fill="#26a69a"/><rect x="726" y="448" width="2" height="108" fill="#ef5350"/><rect x="724" y="477" width="6" height="53" fill="#ef5350"/><rect x="733" y="397" width="2" height="160" fill="#26a69a"/><rect x="731" y="514" width="6" height="16" fill="#26a69a"/><rect x="739" y="435" width="2" height="113" fill="#26a69a"/><rect x="737" y="452" width="6" height="63" fill="#26a69a"/><rect x="746" y="448" width="2" height="49" fill="#ef5350"/><rect x="744" y="452" width="6" height="40" fill="#ef5350"/><rect x="753" y="441" width="2" height="89" fill="#26a69a"/><rect x="751" y="488" width="6" height="4" fill="#26a69a"/><rect x="759" y="436" width="2" height="70" fill="#26a69a"/><rect x="757" y="472" width="6" height="17" fill="#26a69a"/><rect x="766" y="466" width="2" height="19" fill="#ef5350"/><rect x="764" y="471" width="6" height="2" fill="#ef5350"/><rect x="773" y="462" width="2" height="48" fill="#ef5350"/><rect x="771" y="474" width="6" height="35" fill="#ef5350"/><rect x="779" y="498" width="2" height="88" fill="#ef5350"/><rect x="777" y="508" width="6" height="10" fill="#ef5350"/><rect x="786" y="489" width="2" height="57" fill="#ef5350"/><rect x="784" y="518" width="6" height="11" fill="#ef5350"/><rect x="793" y="474" width="2" height="55" fill="#26a69a"/><rect x="791" y="491" width="6" height="38" fill="#26a69a"/><rect x="800" y="447" width="2" height="51" fill="#26a69a"/><rect x="798" y="475" width="6" height="17" fill="#26a69a"/><rect x="806" y="454" width="2" height="71" fill="#ef5350"/><rect x="804" y="475" width="6" height="37" fill="#ef5350"/><rect x="813" y="506" width="2" height="39" fill="#ef5350"/><rect x="811" y="511" width="6" height="29" fill="#ef5350"/><rect x="820" y="527" width="2" height="85" fill="#ef5350"/><rect x="818" y="540" width="6" height="47" fill="#ef5350"/><rect x="826" y="510" width="2" height="179" fill="#26a69a"/><rect x="824" y="529" width="6" height="58" fill="#26a69a"/><rect x="833" y="522" width="2" height="90" fill="#ef5350"/><rect x="831" y="529" width="6" height="58" fill="#ef5350"/><rect x="840" y="564" width="2" height="48" fill="#ef5350"/><rect x="838" y="586" width="6" height="18" fill="#ef5350"/><rect x="847" y="564" width="2" height="55" fill="#ef5350"/><rect x="845" y="603" width="6" height="2" fill="#ef5350"/><rect x="853" y="548" width="2" height="72" fill="#ef5350"/><rect x="851" y="604" width="6" height="2" fill="#ef5350"/><rect x="860" y="600" width="2" height="19" fill="#ef5350"/><rect x="858" y="605" width="6" height="2" fill="#ef5350"/><rect x="867" y="593" width="2" height="42" fill="#26a69a"/><rect x="865" y="606" width="6" height="2" fill="#26a69a"/><rect x="873" y="577" width="2" height="49" fill="#26a69a"/><rect x="871" y="591" width="6" height="16" fill="#26a69a"/><rect x="880" y="574" width="2" height="58" fill="#ef5350"/><rect x="878" y="591" width="6" height="28" fill="#ef5350"/><rect x="887" y="580" width="2" height="65" fill="#26a69a"/><rect x="885" y="584" width="6" height="35" fill="#26a69a"/><rect x="893" y="581" width="2" height="46" fill="#ef5350"/><rect x="891" y="584" width="6" height="21" fill="#ef5350"/><rect x="900" y="569" width="2" height="41" fill="#26a69a"/><rect x="898" y="590" width="6" height="15" fill="#26a69a"/><rect x="907" y="583" width="2" height="11" fill="#26a69a"/><rect x="905" y="588" width="6" height="2" fill="#26a69a"/><rect x="914" y="587" width="2" height="26" fill="#ef5350"/><rect x="912" y="589" width="6" height="24" fill="#ef5350"/><rect x="920" y="597" width="2" height="30" fill="#ef5350"/><rect x="918" y="612" width="6" height="7" fill="#ef5350"/><rect x="927" y="602" width="2" height="54" fill="#ef5350"/><rect x="925" y="617" width="6" height="2" fill="#ef5350"/><rect x="934" y="600" width="2" height="29" fill="#26a69a"/><rect x="932" y="604" width="6" height="16" fill="#26a69a"/><rect x="940" y="571" width="2" height="36" fill="#26a69a"/><rect x="938" y="577" width="6" height="28" fill="#26a69a"/><rect x="947" y="559" width="2" height="73" fill="#ef5350"/><rect x="945" y="577" width="6" height="35" fill="#ef5350"/><rect x="954" y="598" width="2" height="20" fill="#26a69a"/><rect x="952" y="605" width="6" height="7" fill="#26a69a"/><rect x="961" y="604" width="2" height="22" fill="#ef5350"/><rect x="959" y="605" width="6" height="5" fill="#ef5350"/><rect x="967" y="606" width="2" height="82" fill="#ef5350"/><rect x="965" y="610" width="6" height="76" fill="#ef5350"/><rect x="974" y="669" width="2" height="103" fill="#ef5350"/><rect x="972" y="685" width="6" height="47" fill="#ef5350"/><rect x="981" y="719" width="2" height="113" fill="#ef5350"/><rect x="979" y="731" width="6" height="71" fill="#ef5350"/><rect x="987" y="756" width="2" height="70" fill="#26a69a"/><rect x="985" y="794" width="6" height="8" fill="#26a69a"/><rect x="994" y="788" width="2" height="108" fill="#ef5350"/><rect x="992" y="794" width="6" height="6" fill="#ef5350"/><rect x="1001" y="765" width="2" height="42" fill="#26a69a"/><rect x="999" y="772" width="6" height="28" fill="#26a69a"/><rect x="1007" y="630" width="2" height="159" fill="#26a69a"/><rect x="1005" y="642" width="6" height="132" fill="#26a69a"/><rect x="1014" y="639" width="2" height="148" fill="#ef5350"/><rect x="1012" y="642" width="6" height="129" fill="#ef5350"/><rect x="1021" y="726" width="2" height="120" fill="#26a69a"/><rect x="1019" y="753" width="6" height="18" fill="#26a69a"/><rect x="1028" y="694" width="2" height="74" fill="#26a69a"/><rect x="1026" y="700" width="6" height="54" fill="#26a69a"/><rect x="1034" y="665" width="2" height="79" fill="#ef5350"/><rect x="1032" y="700" width="6" height="12" fill="#ef5350"/><rect x="1041" y="689" width="2" height="106" fill="#ef5350"/><rect x="1039" y="711" width="6" height="51" fill="#ef5350"/><rect x="1048" y="759" width="2" height="26" fill="#ef5350"/><rect x="1046" y="761" width="6" height="10" fill="#ef5350"/><rect x="1054" y="766" width="2" height="102" fill="#ef5350"/><rect x="1052" y="770" width="6" height="89" fill="#ef5350"/><rect x="1061" y="804" width="2" height="106" fill="#ef5350"/><rect x="1059" y="858" width="6" height="35" fill="#ef5350"/><rect x="1068" y="812" width="2" height="112" fill="#26a69a"/><rect x="1066" y="823" width="6" height="70" fill="#26a69a"/><rect x="1075" y="797" width="2" height="62" fill="#26a69a"/><rect x="1073" y="811" width="6" height="13" fill="#26a69a"/><rect x="1081" y="800" width="2" height="70" fill="#ef5350"/><rect x="1079" y="811" width="6" height="42" fill="#ef5350"/><rect x="1088" y="785" width="2" height="71" fill="#26a69a"/><rect x="1086" y="805" width="6" height="48" fill="#26a69a"/><rect x="1095" y="795" width="2" height="17" fill="#26a69a"/><rect x="1093" y="800" width="6" height="6" fill="#26a69a"/><rect x="1101" y="788" width="2" height="50" fill="#ef5350"/><rect x="1099" y="800" width="6" height="29" fill="#ef5350"/><rect x="1108" y="794" width="2" height="36" fill="#26a69a"/><rect x="1106" y="805" width="6" height="24" fill="#26a69a"/><rect x="1115" y="805" width="2" height="46" fill="#ef5350"/><rect x="1113" y="805" width="6" height="21" fill="#ef5350"/><rect x="1121" y="758" width="2" height="71" fill="#26a69a"/><rect x="1119" y="760" width="6" height="66" fill="#26a69a"/><rect x="1128" y="750" width="2" height="61" fill="#ef5350"/><rect x="1126" y="760" width="6" height="43" fill="#ef5350"/><rect x="1135" y="792" width="2" height="27" fill="#ef5350"/><rect x="1133" y="802" width="6" height="2" fill="#ef5350"/><rect x="1142" y="797" width="2" height="15" fill="#ef5350"/><rect x="1140" y="804" width="6" height="5" fill="#ef5350"/><rect x="1148" y="772" width="2" height="37" fill="#26a69a"/><rect x="1146" y="772" width="6" height="37" fill="#26a69a"/><rect x="1155" y="730" width="2" height="50" fill="#26a69a"/><rect x="1153" y="750" width="6" height="22" fill="#26a69a"/><rect x="1162" y="733" width="2" height="36" fill="#ef5350"/><rect x="1160" y="749" width="6" height="2" fill="#ef5350"/><rect x="1168" y="737" width="2" height="39" fill="#ef5350"/><rect x="1166" y="751" width="6" height="9" fill="#ef5350"/><rect x="1175" y="746" width="2" height="31" fill="#26a69a"/><rect x="1173" y="754" width="6" height="6" fill="#26a69a"/><rect x="1182" y="749" width="2" height="62" fill="#ef5350"/><rect x="1180" y="754" width="6" height="45" fill="#ef5350"/><rect x="1189" y="796" width="2" height="47" fill="#ef5350"/><rect x="1187" y="799" width="6" height="29" fill="#ef5350"/><rect x="1195" y="813" width="2" height="32" fill="#ef5350"/><rect x="1193" y="827" width="6" height="4" fill="#ef5350"/><rect x="1202" y="807" width="2" height="42" fill="#26a69a"/><rect x="1200" y="829" width="6" height="2" fill="#26a69a"/><rect x="1209" y="781" width="2" height="50" fill="#26a69a"/><rect x="1207" y="787" width="6" height="43" fill="#26a69a"/><rect x="1215" y="734" width="2" height="98" fill="#ef5350"/><rect x="1213" y="787" width="6" height="43" fill="#ef5350"/><rect x="1222" y="806" width="2" height="44" fill="#26a69a"/><rect x="1220" y="818" width="6" height="12" fill="#26a69a"/><rect x="1229" y="794" width="2" height="49" fill="#26a69a"/><rect x="1227" y="807" width="6" height="12" fill="#26a69a"/><rect x="1235" y="801" width="2" height="30" fill="#ef5350"/><rect x="1233" y="807" width="6" height="7" fill="#ef5350"/><rect x="1242" y="809" width="2" height="106" fill="#ef5350"/><rect x="1240" y="813" width="6" height="83" fill="#ef5350"/><rect x="1249" y="850" width="2" height="106" fill="#26a69a"/><rect x="1247" y="883" width="6" height="13" fill="#26a69a"/><rect x="1256" y="856" width="2" height="73" fill="#ef5350"/><rect x="1254" y="883" width="6" height="46" fill="#ef5350"/><rect x="1262" y="812" width="2" height="142" fill="#26a69a"/><rect x="1260" y="828" width="6" height="101" fill="#26a69a"/><rect x="1269" y="826" width="2" height="68" fill="#ef5350"/><rect x="1267" y="828" width="6" height="49" fill="#ef5350"/><rect x="1276" y="801" width="2" height="84" fill="#26a69a"/><rect x="1274" y="815" width="6" height="62" fill="#26a69a"/><rect x="1282" y="775" width="2" height="49" fill="#26a69a"/><rect x="1280" y="785" width="6" height="30" fill="#26a69a"/><rect x="1289" y="772" width="2" height="49" fill="#ef5350"/><rect x="1287" y="785" width="6" height="25" fill="#ef5350"/><rect x="1296" y="777" width="2" height="33" fill="#26a69a"/><rect x="1294" y="796" width="6" height="14" fill="#26a69a"/><rect x="1303" y="766" width="2" height="45" fill="#ef5350"/><rect x="1301" y="796" width="6" height="15" fill="#ef5350"/><rect x="1309" y="782" width="2" height="38" fill="#26a69a"/><rect x="1307" y="805" width="6" height="6" fill="#26a69a"/><rect x="1316" y="782" width="2" height="28" fill="#26a69a"/><rect x="1314" y="790" width="6" height="16" fill="#26a69a"/><rect x="1323" y="788" width="2" height="12" fill="#ef5350"/><rect x="1321" y="789" width="6" height="10" fill="#ef5350"/><rect x="1329" y="779" width="2" height="21" fill="#26a69a"/><rect x="1327" y="788" width="6" height="11" fill="#26a69a"/><rect x="1336" y="785" width="2" height="21" fill="#26a69a"/><rect x="1334" y="786" width="6" height="2" fill="#26a69a"/><rect x="1343" y="734" width="2" height="55" fill="#26a69a"/><rect x="1341" y="749" width="6" height="40" fill="#26a69a"/><rect x="1349" y="648" width="2" height="108" fill="#26a69a"/><rect x="1347" y="655" width="6" height="95" fill="#26a69a"/><rect x="1356" y="635" width="2" height="44" fill="#26a69a"/><rect x="1354" y="651" width="6" height="4" fill="#26a69a"/><rect x="1363" y="646" width="2" height="37" fill="#26a69a"/><rect x="1361" y="646" width="6" height="5" fill="#26a69a"/><rect x="1370" y="618" width="2" height="45" fill="#26a69a"/><rect x="1368" y="636" width="6" height="10" fill="#26a69a"/><rect x="1376" y="627" width="2" height="21" fill="#ef5350"/><rect x="1374" y="635" width="6" height="2" fill="#ef5350"/><rect x="1383" y="624" width="2" height="28" fill="#ef5350"/><rect x="1381" y="636" width="6" height="15" fill="#ef5350"/><rect x="1390" y="620" width="2" height="44" fill="#26a69a"/><rect x="1388" y="630" width="6" height="21" fill="#26a69a"/><rect x="1396" y="623" width="2" height="26" fill="#ef5350"/><rect x="1394" y="630" width="6" height="13" fill="#ef5350"/><rect x="1403" y="626" width="2" height="37" fill="#ef5350"/><rect x="1401" y="641" width="6" height="2" fill="#ef5350"/><rect x="1410" y="600" width="2" height="44" fill="#26a69a"/><rect x="1408" y="606" width="6" height="38" fill="#26a69a"/><rect x="1417" y="584" width="2" height="23" fill="#26a69a"/><rect x="1415" y="600" width="6" height="7" fill="#26a69a"/><rect x="1423" y="599" width="2" height="18" fill="#ef5350"/><rect x="1421" y="600" width="6" height="17" fill="#ef5350"/><rect x="1430" y="609" width="2" height="34" fill="#ef5350"/><rect x="1428" y="616" width="6" height="27" fill="#ef5350"/><rect x="1437" y="627" width="2" height="26" fill="#26a69a"/><rect x="1435" y="634" width="6" height="9" fill="#26a69a"/><rect x="1443" y="599" width="2" height="57" fill="#26a69a"/><rect x="1441" y="601" width="6" height="33" fill="#26a69a"/><rect x="1450" y="587" width="2" height="30" fill="#26a69a"/><rect x="1448" y="598" width="6" height="3" fill="#26a69a"/><rect x="1457" y="484" width="2" height="116" fill="#26a69a"/><rect x="1455" y="498" width="6" height="101" fill="#26a69a"/><rect x="1463" y="480" width="2" height="33" fill="#ef5350"/><rect x="1461" y="498" width="6" height="6" fill="#ef5350"/><rect x="1470" y="471" width="2" height="34" fill="#26a69a"/><rect x="1468" y="473" width="6" height="31" fill="#26a69a"/><rect x="1477" y="471" width="2" height="26" fill="#ef5350"/><rect x="1475" y="473" width="6" height="12" fill="#ef5350"/><rect x="1484" y="457" width="2" height="82" fill="#ef5350"/><rect x="1482" y="484" width="6" height="22" fill="#ef5350"/><rect x="1490" y="471" width="2" height="55" fill="#26a69a"/><rect x="1488" y="485" width="6" height="21" fill="#26a69a"/><rect x="1497" y="481" width="2" height="27" fill="#ef5350"/><rect x="1495" y="485" width="6" height="9" fill="#ef5350"/><rect x="1504" y="483" width="2" height="45" fill="#26a69a"/><rect x="1502" y="491" width="6" height="3" fill="#26a69a"/><rect x="1510" y="477" width="2" height="23" fill="#ef5350"/><rect x="1508" y="491" width="6" height="5" fill="#ef5350"/><rect x="1517" y="491" width="2" height="16" fill="#ef5350"/><rect x="1515" y="495" width="6" height="5" fill="#ef5350"/><rect x="1524" y="444" width="2" height="57" fill="#26a69a"/><rect x="1522" y="447" width="6" height="53" fill="#26a69a"/><rect x="1531" y="437" width="2" height="81" fill="#ef5350"/><rect x="1529" y="447" width="6" height="15" fill="#ef5350"/><rect x="1537" y="433" width="2" height="50" fill="#26a69a"/><rect x="1535" y="441" width="6" height="21" fill="#26a69a"/><rect x="1544" y="378" width="2" height="75" fill="#26a69a"/><rect x="1542" y="396" width="6" height="46" fill="#26a69a"/><rect x="1551" y="359" width="2" height="45" fill="#26a69a"/><rect x="1549" y="362" width="6" height="35" fill="#26a69a"/><rect x="1557" y="362" width="2" height="80" fill="#ef5350"/><rect x="1555" y="362" width="6" height="72" fill="#ef5350"/><rect x="1564" y="398" width="2" height="42" fill="#26a69a"/><rect x="1562" y="426" width="6" height="8" fill="#26a69a"/><rect x="1571" y="402" width="2" height="42" fill="#26a69a"/><rect x="1569" y="406" width="6" height="21" fill="#26a69a"/><rect x="1577" y="384" width="2" height="28" fill="#26a69a"/><rect x="1575" y="399" width="6" height="7" fill="#26a69a"/><rect x="1584" y="379" width="2" height="51" fill="#ef5350"/><rect x="1582" y="399" width="6" height="9" fill="#ef5350"/><rect x="1591" y="402" width="2" height="40" fill="#ef5350"/><rect x="1589" y="407" width="6" height="20" fill="#ef5350"/><rect x="1598" y="408" width="2" height="56" fill="#ef5350"/><rect x="1596" y="426" width="6" height="35" fill="#ef5350"/><rect x="1604" y="449" width="2" height="43" fill="#ef5350"/><rect x="1602" y="461" width="6" height="27" fill="#ef5350"/><rect x="1611" y="472" width="2" height="29" fill="#26a69a"/><rect x="1609" y="477" width="6" height="11" fill="#26a69a"/><rect x="1618" y="456" width="2" height="34" fill="#26a69a"/><rect x="1616" y="460" width="6" height="18" fill="#26a69a"/><rect x="1624" y="455" width="2" height="37" fill="#26a69a"/><rect x="1622" y="457" width="6" height="4" fill="#26a69a"/><rect x="1631" y="442" width="2" height="30" fill="#ef5350"/><rect x="1629" y="457" width="6" height="8" fill="#ef5350"/><rect x="1638" y="454" width="2" height="29" fill="#ef5350"/><rect x="1636" y="464" width="6" height="12" fill="#ef5350"/><rect x="1645" y="456" width="2" height="88" fill="#ef5350"/><rect x="1643" y="475" width="6" height="52" fill="#ef5350"/><rect x="1651" y="465" width="2" height="68" fill="#26a69a"/><rect x="1649" y="482" width="6" height="45" fill="#26a69a"/><rect x="1658" y="456" width="2" height="32" fill="#26a69a"/><rect x="1656" y="461" width="6" height="22" fill="#26a69a"/><rect x="1665" y="447" width="2" height="24" fill="#26a69a"/><rect x="1663" y="459" width="6" height="2" fill="#26a69a"/><rect x="1671" y="382" width="2" height="83" fill="#26a69a"/><rect x="1669" y="386" width="6" height="74" fill="#26a69a"/><rect x="1678" y="384" width="2" height="33" fill="#26a69a"/><rect x="1676" y="385" width="6" height="2" fill="#26a69a"/><rect x="1685" y="384" width="2" height="37" fill="#ef5350"/><rect x="1683" y="386" width="6" height="27" fill="#ef5350"/><rect x="1691" y="409" width="2" height="52" fill="#ef5350"/><rect x="1689" y="412" width="6" height="49" fill="#ef5350"/><rect x="1698" y="451" width="2" height="57" fill="#26a69a"/><rect x="1696" y="453" width="6" height="8" fill="#26a69a"/><rect x="1705" y="450" width="2" height="31" fill="#ef5350"/><rect x="1703" y="453" width="6" height="11" fill="#ef5350"/><rect x="1712" y="452" width="2" height="26" fill="#26a69a"/><rect x="1710" y="461" width="6" height="3" fill="#26a69a"/><rect x="1718" y="407" width="2" height="64" fill="#26a69a"/><rect x="1716" y="442" width="6" height="19" fill="#26a69a"/><rect x="1725" y="426" width="2" height="70" fill="#ef5350"/><rect x="1723" y="442" width="6" height="36" fill="#ef5350"/><rect x="1732" y="462" width="2" height="32" fill="#26a69a"/><rect x="1730" y="472" width="6" height="6" fill="#26a69a"/><rect x="1738" y="467" width="2" height="20" fill="#ef5350"/><rect x="1736" y="472" width="6" height="5" fill="#ef5350"/><rect x="1745" y="446" width="2" height="67" fill="#ef5350"/><rect x="1743" y="476" width="6" height="22" fill="#ef5350"/><rect x="1752" y="487" width="2" height="50" fill="#ef5350"/><rect x="1750" y="497" width="6" height="20" fill="#ef5350"/><rect x="1759" y="496" width="2" height="83" fill="#ef5350"/><rect x="1757" y="516" width="6" height="20" fill="#ef5350"/><rect x="1765" y="453" width="2" height="103" fill="#26a69a"/><rect x="1763" y="465" width="6" height="71" fill="#26a69a"/><rect x="1772" y="450" width="2" height="26" fill="#26a69a"/><rect x="1770" y="453" width="6" height="13" fill="#26a69a"/><rect x="1779" y="420" width="2" height="37" fill="#26a69a"/><rect x="1777" y="433" width="6" height="21" fill="#26a69a"/><rect x="1785" y="418" width="2" height="27" fill="#ef5350"/><rect x="1783" y="433" width="6" height="7" fill="#ef5350"/><rect x="1792" y="427" width="2" height="22" fill="#26a69a"/><rect x="1790" y="437" width="6" height="2" fill="#26a69a"/><rect x="1799" y="429" width="2" height="12" fill="#26a69a"/><rect x="1797" y="434" width="6" height="5" fill="#26a69a"/><rect x="1805" y="414" width="2" height="22" fill="#26a69a"/><rect x="1803" y="417" width="6" height="18" fill="#26a69a"/><rect x="1812" y="410" width="2" height="33" fill="#ef5350"/><rect x="1810" y="417" width="6" height="20" fill="#ef5350"/><rect x="1819" y="430" width="2" height="36" fill="#ef5350"/><rect x="1817" y="436" width="6" height="24" fill="#ef5350"/><rect x="1826" y="395" width="2" height="74" fill="#26a69a"/><rect x="1824" y="409" width="6" height="51" fill="#26a69a"/><rect x="1832" y="390" width="2" height="24" fill="#26a69a"/><rect x="1830" y="397" width="6" height="13" fill="#26a69a"/><rect x="1839" y="394" width="2" height="40" fill="#ef5350"/><rect x="1837" y="397" width="6" height="26" fill="#ef5350"/><rect x="1846" y="416" width="2" height="10" fill="#26a69a"/><rect x="1844" y="419" width="6" height="4" fill="#26a69a"/><rect x="1852" y="395" width="2" height="31" fill="#26a69a"/><rect x="1850" y="403" width="6" height="17" fill="#26a69a"/><rect x="1859" y="395" width="2" height="35" fill="#ef5350"/><rect x="1857" y="403" width="6" height="16" fill="#ef5350"/><rect x="1866" y="403" width="2" height="29" fill="#26a69a"/><rect x="1864" y="408" width="6" height="11" fill="#26a69a"/><rect x="1873" y="359" width="2" height="58" fill="#26a69a"/><rect x="1871" y="371" width="6" height="38" fill="#26a69a"/><rect x="1879" y="281" width="2" height="101" fill="#26a69a"/><rect x="1877" y="294" width="6" height="77" fill="#26a69a"/><rect x="1886" y="249" width="2" height="57" fill="#26a69a"/><rect x="1884" y="270" width="6" height="25" fill="#26a69a"/><rect x="1893" y="260" width="2" height="20" fill="#ef5350"/><rect x="1891" y="269" width="6" height="2" fill="#ef5350"/><rect x="1899" y="239" width="2" height="35" fill="#26a69a"/><rect x="1897" y="245" width="6" height="28" fill="#26a69a"/><rect x="1906" y="179" width="2" height="68" fill="#26a69a"/><rect x="1904" y="233" width="6" height="13" fill="#26a69a"/><rect x="1913" y="232" width="2" height="67" fill="#ef5350"/><rect x="1911" y="233" width="6" height="34" fill="#ef5350"/><rect x="1919" y="230" width="2" height="48" fill="#26a69a"/><rect x="1917" y="253" width="6" height="14" fill="#26a69a"/><rect x="1926" y="215" width="2" height="56" fill="#26a69a"/><rect x="1924" y="244" width="6" height="9" fill="#26a69a"/><rect x="1933" y="218" width="2" height="63" fill="#ef5350"/><rect x="1931" y="244" width="6" height="20" fill="#ef5350"/><rect x="1940" y="255" width="2" height="19" fill="#ef5350"/><rect x="1938" y="263" width="6" height="2" fill="#ef5350"/><rect x="1946" y="249" width="2" height="38" fill="#ef5350"/><rect x="1944" y="265" width="6" height="9" fill="#ef5350"/><rect x="1953" y="236" width="2" height="50" fill="#26a69a"/><rect x="1951" y="272" width="6" height="2" fill="#26a69a"/><rect x="1960" y="227" width="2" height="66" fill="#26a69a"/><rect x="1958" y="232" width="6" height="42" fill="#26a69a"/><rect x="1966" y="229" width="2" height="45" fill="#ef5350"/><rect x="1964" y="232" width="6" height="19" fill="#ef5350"/><rect x="1973" y="240" width="2" height="36" fill="#ef5350"/><rect x="1971" y="251" width="6" height="7" fill="#ef5350"/><rect x="1980" y="256" width="2" height="59" fill="#ef5350"/><rect x="1978" y="257" width="6" height="12" fill="#ef5350"/><rect x="1987" y="259" width="2" height="17" fill="#26a69a"/><rect x="1985" y="263" width="6" height="6" fill="#26a69a"/></g><line x1="20" y1="262" x2="2058" y2="262" stroke="#26a69a" stroke-width="2" stroke-dasharray="2 4" shape-rendering="crispEdges"/><g shape-rendering="crispEdges"><rect x="20" y="54" width="2210" height="1310" fill="none" stroke="#efeff2" stroke-width="2"/><rect x="2058" y="55" width="2" height="1308" fill="#e0e0e4"/><rect x="20" y="1308" width="2039" height="2" fill="#e0e0e4"/></g><rect x="2066.5" y="62.5" width="155" height="51" rx="8" fill="#fff" stroke="#ececef" stroke-width="1.5"/><path d="M2060 245H2218Q2222 245 2222 249V303Q2222 307 2218 307H2060Z" fill="#26a69a"/><path d="M20 1388H35.2V1407.3H27.6V1396H20Z" fill="#131722"/><circle cx="42.6" cy="1392.4" r="4.4" fill="#131722"/><path d="M49.1 1388H59.1L51.1 1407.3H42.6Z" fill="#131722"/><circle cx="1987.8" cy="1282.8" r="23.5" fill="#fff"/><path d="M1994.25 1264.4 A19.5 19.5 0 1 0 2006.4 1277" fill="none" stroke="#9c27b0" stroke-width="2.8"/><path d="M1992.7 1272.2L1994.1 1274.3L1988.1 1281.8L1996.8 1282.2L1983 1293.7L1981.4 1292.3L1987.6 1284.1L1979.1 1283.5Z" fill="#9c27b0"/><circle cx="2001.8" cy="1269" r="5" fill="#f23645"/><text x="20.72" y="40.00" font-size="24.4" textLength="757.20" lengthAdjust="spacingAndGlyphs" fill="#131722">tomlexzope created with TradingView.com, Jul 26, 2025 17:04 UTC</text><text x="35.74" y="94.30" font-size="25" textLength="379.28" lengthAdjust="spacingAndGlyphs" fill="#131722">Bitcoin / TetherUS · 1D · BINANCE</text><text x="428.52" y="94.30" font-size="25" textLength="18.62" lengthAdjust="spacingAndGlyphs" fill="#131722">O</text><text x="446.25" y="94.30" font-size="25" textLength="114.81" lengthAdjust="spacingAndGlyphs" fill="#26a69a">117,614.31</text><text x="573.40" y="94.30" font-size="25" textLength="19.86" lengthAdjust="spacingAndGlyphs" fill="#131722">H</text><text x="591.13" y="94.30" font-size="25" textLength="122.76" lengthAdjust="spacingAndGlyphs" fill="#26a69a">118,220.00</text><text x="727.37" y="94.30" font-size="25" textLength="15.50" lengthAdjust="spacingAndGlyphs" fill="#131722">L</text><text x="741.21" y="94.30" font-size="25" textLength="117.66" lengthAdjust="spacingAndGlyphs" fill="#26a69a">117,138.38</text><text x="872.42" y="94.30" font-size="25" textLength="18.54" lengthAdjust="spacingAndGlyphs" fill="#131722">C</text><text x="889.72" y="94.30" font-size="25" textLength="123.50" lengthAdjust="spacingAndGlyphs" fill="#26a69a">118,035.63</text><text x="1026.43" y="94.30" font-size="25" textLength="204.13" lengthAdjust="spacingAndGlyphs" fill="#26a69a">+421.32 (+0.36%)</text><text x="2083.72" y="96.30" font-size="24.4" textLength="64.61" lengthAdjust="spacingAndGlyphs" fill="#131722">USDT</text><text x="2076.90" y="173.00" font-size="24.4" textLength="133.33" lengthAdjust="spacingAndGlyphs" fill="#131722">124,000.00</text><text x="2076.90" y="236.90" font-size="24.4" textLength="133.33" lengthAdjust="spacingAndGlyphs" fill="#131722">120,000.00</text><text x="2076.87" y="364.70" font-size="24.4" textLength="133.40" lengthAdjust="spacingAndGlyphs" fill="#131722">112,000.00</text><text x="2076.90" y="428.60" font-size="24.4" textLength="133.33" lengthAdjust="spacingAndGlyphs" fill="#131722">108,000.00</text><text x="2076.90" y="492.50" font-size="24.4" textLength="133.33" lengthAdjust="spacingAndGlyphs" fill="#131722">104,000.00</text><text x="2076.90" y="556.40" font-size="24.4" textLength="133.33" lengthAdjust="spacingAndGlyphs" fill="#131722">100,000.00</text><text x="2076.29" y="620.30" font-size="24.4" textLength="119.62" lengthAdjust="spacingAndGlyphs" fill="#131722">96,000.00</text><text x="2076.29" y="684.20" font-size="24.4" textLength="119.62" lengthAdjust="spacingAndGlyphs" fill="#131722">92,000.00</text><text x="2076.29" y="748.10" font-size="24.4" textLength="119.62" lengthAdjust="spacingAndGlyphs" fill="#131722">88,000.00</text><text x="2076.29" y="812.00" font-size="24.4" textLength="119.62" lengthAdjust="spacingAndGlyphs" fill="#131722">84,000.00</text><text x="2076.29" y="875.90" font-size="24.4" textLength="119.62" lengthAdjust="spacingAndGlyphs" fill="#131722">80,000.00</text><text x="2076.15" y="939.80" font-size="24.4" textLength="119.76" lengthAdjust="spacingAndGlyphs" fill="#131722">76,000.00</text><text x="2076.15" y="1003.70" font-size="24.4" textLength="119.76" lengthAdjust="spacingAndGlyphs" fill="#131722">72,000.00</text><text x="2076.15" y="1067.60" font-size="24.4" textLength="119.76" lengthAdjust="spacingAndGlyphs" fill="#131722">68,000.00</text><text x="2076.15" y="1131.50" font-size="24.4" textLength="119.76" lengthAdjust="spacingAndGlyphs" fill="#131722">64,000.00</text><text x="2076.15" y="1195.40" font-size="24.4" textLength="119.76" lengthAdjust="spacingAndGlyphs" fill="#131722">60,000.00</text><text x="2076.43" y="1259.30" font-size="24.4" textLength="119.48" lengthAdjust="spacingAndGlyphs" fill="#131722">56,000.00</text><text x="2077.47" y="268.50" font-size="24.4" textLength="133.64" lengthAdjust="spacingAndGlyphs" fill="#ffffff">118,035.63</text><text x="2076.63" y="296.00" font-size="24.4" textLength="104.21" lengthAdjust="spacingAndGlyphs" fill="#d4eeeb">06:55:33</text><text x="174.24" y="1345.80" font-size="24" textLength="43.65" lengthAdjust="spacingAndGlyphs" fill="#131722">Nov</text><text x="374.95" y="1345.80" font-size="24" textLength="45.65" lengthAdjust="spacingAndGlyphs" fill="#131722">Dec</text><text x="574.59" y="1345.80" font-size="24" textLength="63.91" lengthAdjust="spacingAndGlyphs" fill="#131722" font-weight="bold">2025</text><text x="793.15" y="1345.80" font-size="24" textLength="41.90" lengthAdjust="spacingAndGlyphs" fill="#131722">Feb</text><text x="979.58" y="1345.80" font-size="24" textLength="43.56" lengthAdjust="spacingAndGlyphs" fill="#131722">Mar</text><text x="1191.00" y="1345.80" font-size="24" textLength="38.10" lengthAdjust="spacingAndGlyphs" fill="#131722">Apr</text><text x="1386.83" y="1345.80" font-size="24" textLength="46.55" lengthAdjust="spacingAndGlyphs" fill="#131722">May</text><text x="1598.92" y="1345.80" font-size="24" textLength="40.99" lengthAdjust="spacingAndGlyphs" fill="#131722">Jun</text><text x="1803.71" y="1345.80" font-size="24" textLength="33.06" lengthAdjust="spacingAndGlyphs" fill="#131722">Jul</text><text x="2007.40" y="1345.80" font-size="24" textLength="42.75" lengthAdjust="spacingAndGlyphs" fill="#131722">Aug</text><text x="66.66" y="1408.70" font-size="26.8" textLength="148.19" lengthAdjust="spacingAndGlyphs" fill="#131722">TradingView</text></svg></body></html>
